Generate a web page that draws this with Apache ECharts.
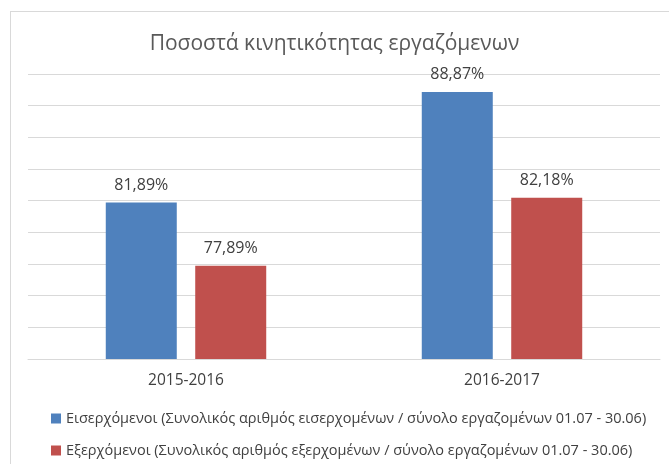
<!DOCTYPE html>
<html>
<head>
<meta charset="utf-8">
<script src="https://cdn.jsdelivr.net/npm/echarts@6/dist/echarts.min.js"></script>
<style>
html, body { margin: 0; padding: 0; background: #fff; }
#frame { position: absolute; left: 10px; top: 11px; width: 680px; height: 480px; border: 1px solid #d9d9d9; box-sizing: border-box; }
#chart { position: absolute; left: 0; top: 0; width: 669px; height: 464px; }
</style>
</head>
<body>
<div id="frame"></div>
<div id="chart"></div>
<script>
// years on the x axis
const categories = ['2015-2016', '2016-2017'];
// incoming / outgoing employee mobility, %
const incoming = [81.89, 88.87];
const outgoing = [77.89, 82.18];
const seriesNames = [
    'Εισερχόμενοι (Συνολικός αριθμός εισερχομένων / σύνολο εργαζομένων 01.07 - 30.06)',
    'Εξερχόμενοι (Συνολικός αριθμός εξερχομένων / σύνολο εργαζομένων 01.07 - 30.06)'
];

const font = 'Open Sans';
let chart = echarts.init(document.getElementById('chart'));

let label = {
    show: true,
    position: 'top',
    distance: 9,
    color: '#404040',
    fontSize: 16,
    fontFamily: font,
    formatter: p => p.value.toFixed(2).replace('.', ',') + '%'
};

// one legend row per series, stacked
let legendRow = (name, top) => ({
    data: [name],
    left: 46,
    top: top,
    itemWidth: 10,
    itemHeight: 10,
    itemGap: 4,
    icon: 'rect',
    textStyle: { fontSize: 14.5, color: '#404040', fontFamily: font }
});

chart.setOption({
    animation: false,
    title: {
        text: 'Ποσοστά κινητικότητας εργαζόμενων',
        left: 'center',
        top: 29,
        textStyle: { fontSize: 21, fontWeight: 'normal', color: '#595959', fontFamily: font }
    },
    legend: [
        legendRow(seriesNames[0], 406),
        legendRow(seriesNames[1], 438)
    ],
    grid: { left: 28, right: 9, top: 74, bottom: 105 },
    xAxis: {
        type: 'category',
        data: categories,
        axisLine: { lineStyle: { color: '#d9d9d9' } },
        axisTick: { show: false },
        axisLabel: { color: '#404040', fontSize: 15.5, fontFamily: font, margin: 14 }
    },
    yAxis: {
        type: 'value',
        min: 72,
        max: 90,
        interval: 2,
        axisLabel: { show: false },
        axisLine: { show: false },
        axisTick: { show: false },
        splitLine: { lineStyle: { color: '#d9d9d9' } }
    },
    series: [
        {
            name: seriesNames[0],
            type: 'bar',
            data: incoming,
            barWidth: 71,
            barGap: '26%',
            itemStyle: { color: '#4f81bd' },
            label: label
        },
        {
            name: seriesNames[1],
            type: 'bar',
            data: outgoing,
            barWidth: 71,
            itemStyle: { color: '#c0504d' },
            label: label
        }
    ]
});
</script>
</body>
</html>
